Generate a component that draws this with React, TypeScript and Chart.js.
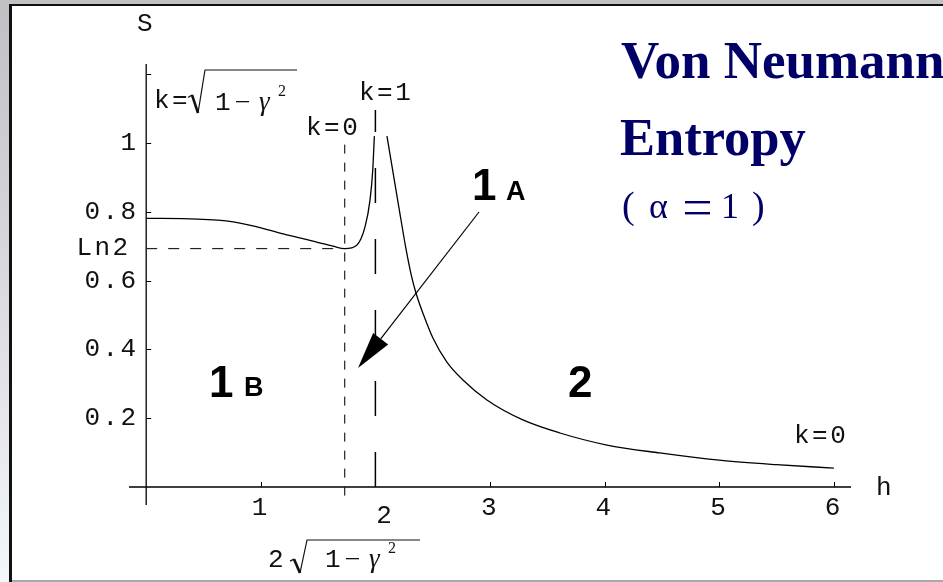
import { useEffect, useRef } from "react";
import { Chart, registerables } from "chart.js";

Chart.register(...registerables);

// Model parameters: gamma sets the dip position h = 2*sqrt(1 - gamma^2)
const GAMMA = 0.5;
const H_DIP = 2 * Math.sqrt(1 - GAMMA * GAMMA);
const H_CRIT = 2;
const LN2 = Math.log(2);

// Von Neumann entropy S(h), alpha = 1 — branch below the critical field
const leftH = [0, 0.45, 0.76, 0.95, 1.195, 1.488, 1.63, 1.732, 1.837, 1.91, 1.953, 1.977, 1.991];
const leftS = [0.781, 0.779, 0.771, 0.758, 0.736, 0.712, 0.7, 0.693, 0.703, 0.757, 0.834, 0.922, 1.02];

// Branch above the critical field
const rightH = [2.101, 2.206, 2.267, 2.311, 2.354, 2.424, 2.502, 2.624, 2.764, 2.973, 3.287, 3.61, 4.02, 4.48, 5.0, 5.5, 6.0];
const rightS = [1.02, 0.811, 0.692, 0.619, 0.564, 0.497, 0.433, 0.363, 0.311, 0.253, 0.195, 0.157, 0.122, 0.099, 0.078, 0.065, 0.055];

// Axis ticks
const xTickValues = [1, 2, 3, 4, 5, 6];
const xTickLabels = ["1", "2", "3", "4", "5", "6"];
const yTickValues = [0.2, 0.4, 0.6, 0.8, 1, 1.2];
const yTickLabels = ["0.2", "0.4", "0.6", "0.8", "1", ""];

const X_MIN = -0.15;
const X_MAX = 6.15;
const Y_MIN = -0.0523;
const Y_MAX = 1.2297;

const MONO = '"Liberation Mono", "DejaVu Sans Mono", monospace';
const SERIF = '"Liberation Serif", "DejaVu Serif", serif';
const SANS = '"Liberation Sans", Arial, sans-serif';
const NAVY = "#000066";
const INK = "#111111";

function pts(xs: number[], ys: number[]) {
  return xs.map((x, i) => ({ x, y: ys[i] }));
}

function monoText(ctx: CanvasRenderingContext2D, s: string, x: number, y: number, align: CanvasTextAlign = "left", size = 26) {
  ctx.font = `${size}px ${MONO}`;
  (ctx as any).letterSpacing = "2.5px";
  ctx.textAlign = align;
  ctx.fillText(s, align === "right" ? x + 2.5 : x, y);
  (ctx as any).letterSpacing = "0px";
  ctx.textAlign = "left";
}

function radical(ctx: CanvasRenderingContext2D, x: number, yBottom: number, yTop: number, barEnd: number) {
  const h = yBottom - yTop;
  ctx.save();
  ctx.lineJoin = "miter";
  ctx.beginPath();
  ctx.lineWidth = 1.2;
  ctx.moveTo(x, yBottom - h * 0.36);
  ctx.lineTo(x + 4, yBottom - h * 0.42);
  ctx.stroke();
  ctx.beginPath();
  ctx.lineWidth = 2.6;
  ctx.moveTo(x + 4, yBottom - h * 0.42);
  ctx.lineTo(x + 10, yBottom);
  ctx.stroke();
  ctx.beginPath();
  ctx.lineWidth = 1.2;
  ctx.moveTo(x + 10, yBottom);
  ctx.lineTo(x + 17, yTop);
  ctx.lineTo(barEnd, yTop);
  ctx.stroke();
  ctx.restore();
}

// "1 − γ²" under a radical; x is where the "1" starts, y the baseline
function oneMinusGammaSq(ctx: CanvasRenderingContext2D, x: number, y: number) {
  monoText(ctx, "1", x, y);
  ctx.fillRect(x + 21, y - 9, 13, 1.3);
  ctx.font = `italic 27px ${SERIF}`;
  ctx.fillText("\u03b3", x + 44, y);
  ctx.font = `16px ${SERIF}`;
  ctx.fillText("2", x + 63, y - 14);
}

const decor = {
  id: "decor",
  beforeDraw(chart: any) {
    const ctx: CanvasRenderingContext2D = chart.ctx;
    const { width, height } = chart;
    ctx.save();
    ctx.fillStyle = "#ffffff";
    ctx.fillRect(0, 0, width, height);
    const g = ctx.createLinearGradient(0, 0, 0, height);
    g.addColorStop(0, "#c0c0c4");
    g.addColorStop(1, "#f3f6fb");
    ctx.fillStyle = g;
    ctx.fillRect(0, 0, 9, height);
    ctx.fillStyle = "#c1c1c5";
    ctx.fillRect(0, 0, width, 4);
    ctx.fillStyle = INK;
    ctx.fillRect(9, 4, 3, height - 4);
    ctx.fillRect(9, 4, width - 9, 2);
    ctx.fillStyle = "#a9a9a9";
    ctx.fillRect(12, height - 2, width - 12, 2);
    ctx.restore();
  },
  beforeDatasetsDraw(chart: any) {
    const ctx: CanvasRenderingContext2D = chart.ctx;
    const xs = chart.scales.x;
    const ys = chart.scales.y;
    const area = chart.chartArea;
    const x0 = xs.getPixelForValue(0);
    const y0 = ys.getPixelForValue(0);
    ctx.save();
    ctx.strokeStyle = "#000";
    ctx.lineWidth = 1.3;
    ctx.beginPath();
    ctx.moveTo(area.left, y0);
    ctx.lineTo(area.right, y0);
    ctx.moveTo(x0, area.top);
    ctx.lineTo(x0, area.bottom);
    ctx.stroke();

    ctx.lineWidth = 1;
    ctx.beginPath();
    xTickValues.forEach((v) => {
      const p = Math.round(xs.getPixelForValue(v)) + 0.5;
      ctx.moveTo(p, y0);
      ctx.lineTo(p, y0 - 5);
    });
    yTickValues.forEach((v) => {
      const p = Math.round(ys.getPixelForValue(v)) + 0.5;
      ctx.moveTo(x0, p);
      ctx.lineTo(x0 + 5, p);
    });
    ctx.stroke();

    ctx.fillStyle = INK;
    ctx.textBaseline = "middle";
    xTickValues.forEach((v, i) => {
      const p = xs.getPixelForValue(v);
      // the "2" label is nudged off the critical-field line
      if (v === H_CRIT) monoText(ctx, xTickLabels[i], p + 10, y0 + 29, "center");
      else monoText(ctx, xTickLabels[i], p, y0 + 21, "center");
    });
    yTickValues.forEach((v, i) => {
      if (!yTickLabels[i]) return;
      monoText(ctx, yTickLabels[i], x0 - 10, ys.getPixelForValue(v), "right");
    });
    monoText(ctx, "Ln2", x0 - 18, ys.getPixelForValue(LN2), "right");

    ctx.textBaseline = "alphabetic";
    monoText(ctx, "S", 137, 31);
    monoText(ctx, "h", 876, 495);
    ctx.restore();
  },
  afterDatasetsDraw(chart: any) {
    const ctx: CanvasRenderingContext2D = chart.ctx;
    ctx.save();
    ctx.fillStyle = INK;
    ctx.strokeStyle = INK;
    ctx.textBaseline = "alphabetic";

    // k labels
    monoText(ctx, "k=1", 359, 100);
    monoText(ctx, "k=0", 306, 135);
    monoText(ctx, "k=0", 794, 443);

    // k = sqrt(1 - gamma^2)
    monoText(ctx, "k=", 154, 108);
    radical(ctx, 188, 113, 70, 297);
    oneMinusGammaSq(ctx, 215, 110);

    // 2 sqrt(1 - gamma^2) under the dip line
    monoText(ctx, "2", 268, 567);
    radical(ctx, 290, 573, 540, 420);
    oneMinusGammaSq(ctx, 325, 567);

    // region labels
    ctx.fillStyle = "#000";
    ctx.font = `bold 44px ${SANS}`;
    ctx.fillText("1", 472, 200);
    ctx.fillText("1", 209, 397);
    ctx.fillText("2", 568, 397);
    ctx.font = `bold 27px ${SANS}`;
    ctx.fillText("A", 506, 200);
    ctx.fillText("B", 244, 396);

    // arrow from region 1A into the gap
    const tail = { x: 479, y: 212 };
    const tip = { x: 358, y: 368 };
    const dx = tail.x - tip.x;
    const dy = tail.y - tip.y;
    const len = Math.hypot(dx, dy);
    const ux = dx / len;
    const uy = dy / len;
    const headLen = 37;
    const half = 9.5;
    const bx = tip.x + ux * headLen;
    const by = tip.y + uy * headLen;
    ctx.strokeStyle = "#000";
    ctx.lineWidth = 1.2;
    ctx.beginPath();
    ctx.moveTo(tail.x, tail.y);
    ctx.lineTo(bx, by);
    ctx.stroke();
    ctx.beginPath();
    ctx.moveTo(tip.x, tip.y);
    ctx.lineTo(bx - uy * half, by + ux * half);
    ctx.lineTo(bx + uy * half, by - ux * half);
    ctx.closePath();
    ctx.fill();

    // title
    ctx.fillStyle = NAVY;
    ctx.font = `bold 53px ${SERIF}`;
    ctx.fillText("Von Neumann", 621, 78);
    ctx.font = `bold 52.5px ${SERIF}`;
    ctx.fillText("Entropy", 620, 155);
    ctx.font = `38px ${SERIF}`;
    ctx.fillText("(", 622, 218);
    ctx.font = `36px ${SERIF}`;
    ctx.fillText("\u03b1", 649, 218);
    ctx.fillRect(685, 201, 25, 2.4);
    ctx.fillRect(685, 212, 25, 2.4);
    ctx.fillText("1", 721, 218);
    ctx.font = `38px ${SERIF}`;
    ctx.fillText(")", 752, 218);
    ctx.restore();
  },
};

export default function App() {
  const canvasRef = useRef<HTMLCanvasElement | null>(null);

  useEffect(() => {
    document.body.style.margin = "0";
    const canvas = canvasRef.current;
    if (!canvas) return;
    const chart = new Chart(canvas, {
      type: "scatter",
      data: {
        datasets: [
          {
            data: pts(leftH, leftS),
            showLine: true,
            borderColor: "#000",
            borderWidth: 1.3,
            pointRadius: 0,
            cubicInterpolationMode: "monotone",
          },
          {
            data: pts(rightH, rightS),
            showLine: true,
            borderColor: "#000",
            borderWidth: 1.3,
            pointRadius: 0,
            cubicInterpolationMode: "monotone",
          },
          {
            data: [
              { x: 0, y: LN2 },
              { x: H_DIP, y: LN2 },
            ],
            showLine: true,
            borderColor: "#222",
            borderWidth: 1.2,
            borderDash: [11, 11],
            pointRadius: 0,
          },
          {
            data: [
              { x: H_DIP, y: -0.025 },
              { x: H_DIP, y: 1.0 },
            ],
            showLine: true,
            borderColor: "#222",
            borderWidth: 1.2,
            borderDash: [9, 9],
            pointRadius: 0,
          },
          {
            data: [
              { x: H_CRIT, y: 0 },
              { x: H_CRIT, y: 1.096 },
            ],
            showLine: true,
            borderColor: "#000",
            borderWidth: 1.5,
            borderDash: [35, 36],
            pointRadius: 0,
          },
        ],
      },
      options: {
        responsive: false,
        animation: false,
        events: [],
        layout: { padding: { left: 129, right: 92, top: 64, bottom: 77 } },
        scales: {
          x: { type: "linear", min: X_MIN, max: X_MAX, display: false },
          y: { type: "linear", min: Y_MIN, max: Y_MAX, display: false },
        },
        plugins: {
          legend: { display: false },
          tooltip: { enabled: false },
          title: { display: false },
        },
      },
      plugins: [decor],
    });
    return () => chart.destroy();
  }, []);

  return (
    <div style={{ position: "fixed", left: 0, top: 0, width: 943, height: 582 }}>
      <canvas ref={canvasRef} width={943} height={582} />
    </div>
  );
}
